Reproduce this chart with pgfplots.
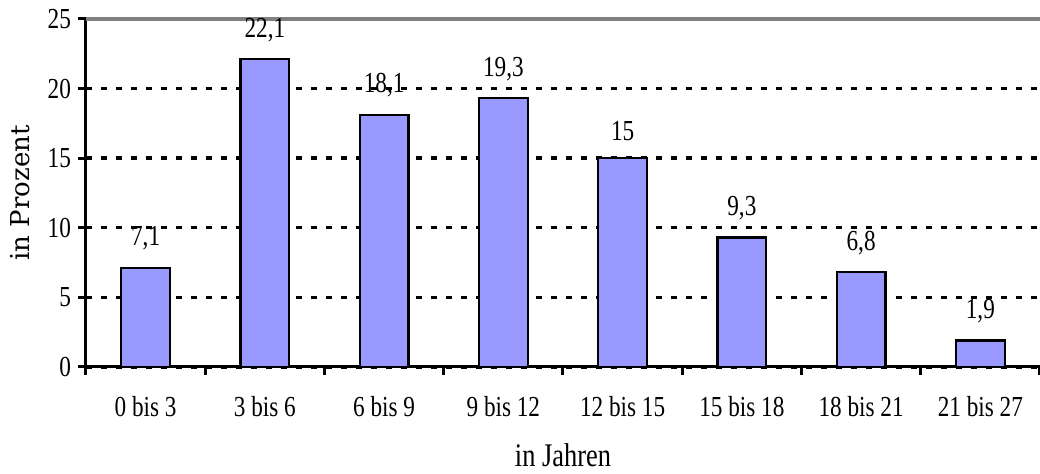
\documentclass[border=0pt]{standalone}
\usepackage{fontspec}
\setmainfont{Liberation Serif}[FakeStretch=0.8]
\newfontfamily\wideserif{DejaVu Serif}
\usepackage{pgfplots}
\pgfplotsset{compat=1.18}
\definecolor{barblue}{HTML}{9999FF}
\begin{document}
\begin{tikzpicture}
\begin{axis}[
  at={(0,0)}, anchor=south west,
  scale only axis, width=477pt, height=174pt,
  xmin=-0.5, xmax=7.5, ymin=0, ymax=25,
  axis x line=bottom, axis y line=left,
  axis line style={-, line width=1.5pt, black},
  xtick={0,...,7},
  xticklabels={0 bis 3,3 bis 6,6 bis 9,9 bis 12,12 bis 15,15 bis 18,18 bis 21,21 bis 27},
  minor xtick={-0.5,0.5,...,7.5},
  major x tick style={draw=none},
  minor x tick style={line width=1.5pt, black},
  tick align=outside,
  major tick length=4pt, minor tick length=4pt,
  ytick={0,5,10,15,20},
  y tick style={line width=1.5pt, black},
  extra y ticks={25},
  extra y tick style={grid style={solid, gray, line width=1.6pt}},
  ymajorgrids,
  grid style={black, line width=1.7pt, dash pattern=on 3pt off 4.5pt},
  tick label style={font=\fontsize{14.5}{16}\selectfont},
  xticklabel style={yshift=-7pt},
  /pgf/number format/assume math mode=true,
  /pgf/number format/use comma,
  ylabel={in Prozent},
  ylabel style={font=\wideserif\fontsize{13}{15}\selectfont, at={(axis description cs:-0.069,0.5)}, anchor=center},
  xlabel={in Jahren},
  xlabel style={font=\fontsize{16.5}{18}\selectfont, at={(axis description cs:0.5,-0.253)}, anchor=center},
  ybar, bar width=0.41,
  nodes near coords,
  every node near coord/.append style={font=\fontsize{14.5}{16}\selectfont, yshift=5pt, black},
  clip=false,
]
\addplot[fill=barblue, draw=black, line width=1.1pt] coordinates {
  (0,7.1) (1,22.1) (2,18.1) (3,19.3) (4,15) (5,9.3) (6,6.8) (7,1.9)
};
\end{axis}
\pgfresetboundingbox
\useasboundingbox (-43pt,-53.5pt) rectangle (477pt,183.5pt);
\end{tikzpicture}
\end{document}
